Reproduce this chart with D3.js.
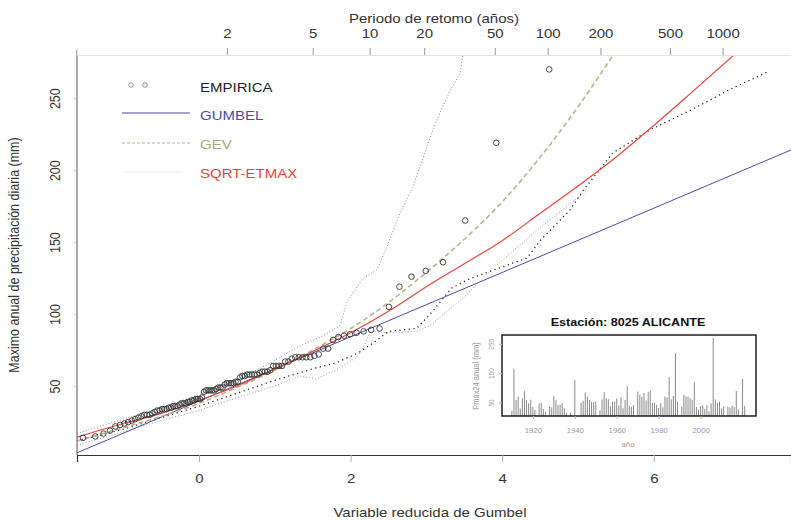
<!DOCTYPE html>
<html>
<head>
<meta charset="utf-8">
<script src="https://cdn.jsdelivr.net/npm/d3@7"></script>
<style>
body { margin: 0; background: #fff; }
svg text { font-family: "Liberation Sans", Arial, sans-serif; }
</style>
</head>
<body>
<div id="chart"></div>
<script>
// Maximo anual de precipitacion diaria (mm), estacion 8025 ALICANTE
var anios = [1910,1911,1912,1913,1914,1915,1916,1917,1918,1919,1920,1921,1923,1924,1925,1926,
    1928,1929,1930,1931,1932,1933,1934,1935,1936,1938,1940,1943,1944,1945,1946,1947,1948,1949,
    1950,1952,1953,1954,1955,1956,1957,1958,1959,1960,1961,1962,1963,1964,1965,1966,1967,1968,
    1970,1971,1972,1973,1974,1975,1976,1977,1978,1979,1980,1981,1982,1983,1984,1985,1986,1987,
    1988,1989,1991,1992,1993,1994,1995,1996,1997,1998,1999,2000,2001,2002,2003,2004,2005,2006,
    2007,2008,2009,2010,2011,2013,2014,2015,2016,2017,2018,2020,2021];
var maximos = [22,165,58,70,29,64,88,57,47,59,34,24,46,49,28,17,
    36,33,71,58,41,42,47,30,14,15,126,49,56,84,70,58,52,51,
    53,23,60,85,64,61,38,52,53,64,39,67,30,58,105,38,35,41,
    87,76,69,82,57,86,90,48,49,41,31,47,33,70,67,136,60,72,
    219,52,36,76,70,70,64,58,119,34,25,37,40,27,40,19,47,270,
    60,47,52,30,36,35,32,39,34,89,26,130,38];

// curvas ajustadas: [variable reducida, mm]
var curvaGumbel = [[-1.61, 3.6], [7.81, 214]];
var curvaGEV = [[-1.61,12],[-1,21],[-0.5,29],[0,38],[0.5,49],[1,61],[1.5,75],[2,90],[2.5,108],
    [3,129],[3.5,152],[4,178],[4.5,209],[5,244],[5.5,283]];
var curvaSQRT = [[-1.61,14.5],[-1,24],[-0.5,31],[0,40],[0.5,50],[1,62],[1.5,74],[2,87],[2.5,102],
    [3,119],[3.5,135],[4,151],[4.5,170],[5,189],[5.5,209],[6,231],[6.5,254],[7.1,282]];

// bandas de confianza (punteadas)
var bandaSupGEV = [[-1.61,17],[-1,27],[-0.5,35],[0,44],[0.5,54],[0.94,66],[1.33,78],[1.6,84],
    [1.86,92],[1.95,108],[2.15,124],[2.35,131],[2.48,147],[2.65,170],[2.82,188],[2.96,209],
    [3.05,223],[3.18,240],[3.31,255],[3.44,267],[3.5,285]];
var bandaInfGEV = [[-1.61,9],[-1,18],[-0.5,26],[0,33],[0.5,42],[1,50],[1.33,57],[1.55,55],
    [1.8,61],[2.08,70],[2.17,77],[2.26,88],[2.5,87],[2.87,88],[3.05,92],[3.5,112],[3.88,132],
    [4.5,160],[5.12,186]];
var bandaSQRT = [[-1.61,12],[-1,20],[0,36],[0.5,45],[1,54],[1.5,62],[1.8,66],[2.1,73],[2.3,80],
    [2.5,88],[2.87,90],[3.05,100],[3.33,118],[3.55,124],[3.75,128],[4.33,139],[4.5,151],
    [4.89,172],[5.07,186],[5.46,212],[5.95,228],[6.5,242],[7.0,256],[7.53,269]];

// ejes
var ticksX = [0, 2, 4, 6];
var ticksY = [50, 100, 150, 200, 250];
var periodos = [2, 5, 10, 20, 50, 100, 200, 500, 1000];
var ticksInsetX = [1920, 1940, 1960, 1980, 2000];
var ticksInsetY = [50, 150, 250];

var w = 791, h = 520;
var SX = 1.2; // la figura original esta estirada en horizontal
var margin = {left: 77, right: 791, top: 55, bottom: 455};

var svg = d3.select("#chart").append("svg")
    .attr("width", w)
    .attr("height", h);

var xScale = d3.scaleLinear().domain([-1.61, 7.81]).range([margin.left, margin.right]);
var yScale = d3.scaleLinear().domain([2.1, 280]).range([margin.bottom, margin.top]);

function texto(g, x, y, s) {
    return g.append("text")
        .attr("transform", "translate(" + x + "," + y + ") scale(" + SX + ",1)")
        .text(s);
}
function textoV(g, x, y, s) {
    return g.append("text")
        .attr("transform", "translate(" + x + "," + y + ") rotate(-90) scale(1," + SX + ")")
        .attr("text-anchor", "middle")
        .text(s);
}
function varReducida(T) { return -Math.log(-Math.log(1 - 1 / T)); }

svg.append("clipPath").attr("id", "area")
    .append("rect")
    .attr("x", margin.left).attr("y", margin.top)
    .attr("width", margin.right - margin.left).attr("height", margin.bottom - margin.top);

var plot = svg.append("g").attr("clip-path", "url(#area)");

var linea = d3.line()
    .x(function(d) { return xScale(d[0]); })
    .y(function(d) { return yScale(d[1]); });
var lineaSuave = d3.line()
    .x(function(d) { return xScale(d[0]); })
    .y(function(d) { return yScale(d[1]); })
    .curve(d3.curveMonotoneX);

// bandas
plot.append("path").datum(bandaSupGEV).attr("d", linea)
    .attr("fill", "none").attr("stroke", "#8c8c8c").attr("stroke-width", 1).attr("stroke-dasharray", "1,2");
plot.append("path").datum(bandaInfGEV).attr("d", linea)
    .attr("fill", "none").attr("stroke", "#9a9a9a").attr("stroke-width", 1).attr("stroke-dasharray", "1,2");
plot.append("path").datum(bandaSQRT).attr("d", linea)
    .attr("fill", "none").attr("stroke", "#222").attr("stroke-width", 1.3).attr("stroke-dasharray", "1.2,3.5");

// ajustes
plot.append("path").datum(curvaGumbel).attr("d", linea)
    .attr("fill", "none").attr("stroke", "#4b4ba6").attr("stroke-width", 1);
plot.append("path").datum(curvaGEV).attr("d", lineaSuave)
    .attr("fill", "none").attr("stroke", "#b8b48c").attr("stroke-width", 1.6).attr("stroke-dasharray", "5,3");
plot.append("path").datum(curvaSQRT).attr("d", lineaSuave)
    .attr("fill", "none").attr("stroke", "#e8443e").attr("stroke-width", 1.2);

// puntos empiricos (posicion i/(n+1) en variable reducida de Gumbel)
var ordenados = maximos.slice().sort(d3.ascending);
var n = ordenados.length;
plot.selectAll("circle.emp")
    .data(ordenados)
    .enter().append("circle")
    .attr("class", "emp")
    .attr("cx", function(d, i) { return xScale(-Math.log(-Math.log((i + 1) / (n + 1)))); })
    .attr("cy", function(d) { return yScale(d); })
    .attr("r", 2.8)
    .attr("fill", "none")
    .attr("stroke", "#333")
    .attr("stroke-width", 0.9);

// eje inferior
var xAxis = d3.axisBottom(xScale).tickValues(ticksX).tickSize(7).tickPadding(12);
var gx = svg.append("g")
    .attr("transform", "translate(0," + margin.bottom + ")")
    .call(xAxis);
gx.select(".domain").attr("stroke", "#333").attr("stroke-width", 1.2);
gx.selectAll(".tick line").attr("stroke", "#aaa");
gx.selectAll("text").attr("font-size", 12.5).attr("fill", "#333")
    .attr("font-family", "Liberation Sans, Arial, sans-serif")
    .attr("transform", "scale(" + SX + ",1)");

// eje izquierdo
var yAxis = d3.axisLeft(yScale).tickValues(ticksY).tickSize(4).tickPadding(6);
var gy = svg.append("g")
    .attr("transform", "translate(" + margin.left + ",0)")
    .call(yAxis);
gy.select(".domain").remove();
svg.append("line")
    .attr("x1", margin.left).attr("x2", margin.left)
    .attr("y1", 50).attr("y2", margin.bottom)
    .attr("stroke", "#555").attr("stroke-width", 1);
gy.selectAll(".tick line").attr("stroke", "#ddd");
gy.selectAll("text")
    .attr("font-size", 12.5).attr("fill", "#333")
    .attr("font-family", "Liberation Sans, Arial, sans-serif")
    .attr("text-anchor", "middle")
    .attr("x", 0).attr("dy", 0)
    .attr("transform", function(d) { return "translate(-17,0) rotate(-90) scale(1," + SX + ")"; });

// eje superior: periodo de retorno
var topAxis = d3.axisTop(xScale)
    .tickValues(periodos.map(varReducida))
    .tickFormat(function(d, i) { return periodos[i]; })
    .tickSize(7).tickPadding(10);
var gt = svg.append("g")
    .attr("transform", "translate(0," + margin.top + ")")
    .call(topAxis);
gt.select(".domain").attr("stroke", "#e4e4e4");
gt.selectAll(".tick line").attr("stroke", "#999");
gt.selectAll("text").attr("font-size", 12.5).attr("fill", "#333")
    .attr("font-family", "Liberation Sans, Arial, sans-serif")
    .attr("transform", "scale(" + SX + ",1)");

// titulos de ejes
texto(svg, 434, 23, "Periodo de retomo (años)").attr("text-anchor", "middle")
    .attr("font-size", 12.5).attr("fill", "#333");
texto(svg, 430, 517, "Variable reducida de Gumbel").attr("text-anchor", "middle")
    .attr("font-size", 12.5).attr("fill", "#333");
textoV(svg, 19, 255, "Maximo anual de precipitación diaria (mm)")
    .attr("font-size", 12.5).attr("fill", "#333");

// leyenda
var ley = svg.append("g");
ley.selectAll("circle").data([131, 145]).enter().append("circle")
    .attr("cx", function(d) { return d; }).attr("cy", 85).attr("r", 2.3)
    .attr("fill", "none").attr("stroke", "#777").attr("stroke-width", 0.8);
texto(ley, 200, 92, "EMPIRICA").attr("font-size", 12.5).attr("fill", "#222");
ley.append("line").attr("x1", 122).attr("x2", 190).attr("y1", 113).attr("y2", 113)
    .attr("stroke", "#4b4ba6").attr("stroke-width", 1);
texto(ley, 200, 120, "GUMBEL").attr("font-size", 12.5).attr("fill", "#4b4ba6");
ley.append("line").attr("x1", 122).attr("x2", 190).attr("y1", 143).attr("y2", 143)
    .attr("stroke", "#b8b48c").attr("stroke-width", 1.2).attr("stroke-dasharray", "3,2");
texto(ley, 200, 149, "GEV").attr("font-size", 12.5).attr("fill", "#a8a67c");
ley.append("line").attr("x1", 123).attr("x2", 183).attr("y1", 172).attr("y2", 172)
    .attr("stroke", "#eeeeee").attr("stroke-width", 1);
texto(ley, 200, 178, "SQRT-ETMAX").attr("font-size", 12.5).attr("fill", "#e8443e");

// recuadro: serie anual
var ix = d3.scaleLinear().domain([1905.3, 2026.4]).range([502, 756]);
var iy = d3.scaleLinear().domain([3.5, 280]).range([416, 335]);
var inset = svg.append("g");
inset.append("rect").attr("x", 500).attr("y", 312).attr("width", 270).attr("height", 140).attr("fill", "#fff");
inset.selectAll("line.bar")
    .data(anios)
    .enter().append("line")
    .attr("class", "bar")
    .attr("x1", function(d) { return ix(d); })
    .attr("x2", function(d) { return ix(d); })
    .attr("y1", iy.range()[0])
    .attr("y2", function(d, i) { return iy(maximos[i]); })
    .attr("stroke", "#8a8a8a").attr("stroke-width", 1);
inset.append("rect").attr("x", 502).attr("y", 335).attr("width", 254).attr("height", 81)
    .attr("fill", "none").attr("stroke", "#111").attr("stroke-width", 1.4);
texto(inset, 628, 326, "Estación: 8025 ALICANTE").attr("text-anchor", "middle")
    .attr("font-size", 10.5).attr("font-weight", "bold").attr("fill", "#111");

var ixAxis = d3.axisBottom(ix).tickValues(ticksInsetX).tickFormat(d3.format("d")).tickSize(3).tickPadding(9);
var gix = inset.append("g").attr("transform", "translate(0,416)").call(ixAxis);
gix.select(".domain").remove();
gix.selectAll(".tick line").attr("stroke", "#bbb");
gix.selectAll("text").attr("font-size", 6.5).attr("fill", "#999")
    .attr("transform", "scale(" + SX + ",1)");

var iyAxis = d3.axisLeft(iy).tickValues(ticksInsetY).tickSize(3).tickPadding(3);
var giy = inset.append("g").attr("transform", "translate(502,0)").call(iyAxis);
giy.select(".domain").remove();
giy.selectAll(".tick line").attr("stroke", "#bbb");
giy.selectAll("text").attr("font-size", 6.5).attr("fill", "#999")
    .attr("text-anchor", "middle").attr("x", 0).attr("dy", 0)
    .attr("transform", "translate(-8,0) rotate(-90) scale(1," + SX + ")");

texto(inset, 628, 447, "año").attr("text-anchor", "middle").attr("font-size", 6.5).attr("fill", "#999");
textoV(inset, 479, 376, "Pmax24 anual (mm)").attr("font-size", 7.5).attr("fill", "#999");
</script>
</body>
</html>
